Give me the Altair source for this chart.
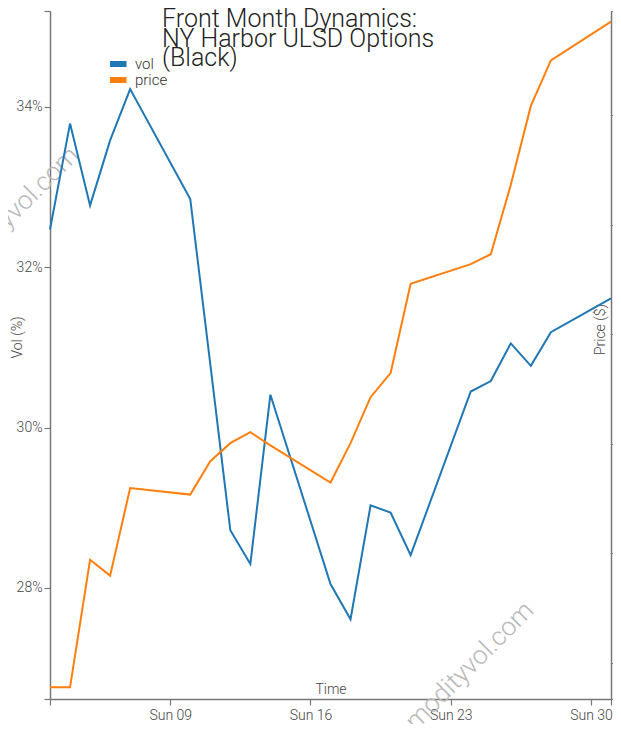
import altair as alt
import pandas as pd

dates = ["2025-03-03", "2025-03-04", "2025-03-05", "2025-03-06", "2025-03-07",
         "2025-03-10", "2025-03-11", "2025-03-12", "2025-03-13", "2025-03-14",
         "2025-03-17", "2025-03-18", "2025-03-19", "2025-03-20", "2025-03-21",
         "2025-03-24", "2025-03-25", "2025-03-26", "2025-03-27", "2025-03-28",
         "2025-03-31"]
vol = [32.47, 33.79, 32.77, 33.58, 34.22,
       32.85, 30.79, 28.72, 28.30, 30.41,
       28.05, 27.61, 29.03, 28.94, 28.41,
       30.45, 30.58, 31.05, 30.77, 31.19,
       31.61]
price = [2.1955, 2.1955, 2.2188, 2.2159, 2.2319,
         2.2307, 2.2368, 2.2401, 2.2421, 2.2397,
         2.2329, 2.2401, 2.2485, 2.2529, 2.2692,
         2.2728, 2.2746, 2.2873, 2.3017, 2.3100,
         2.3171]

series_names = ["vol", "price"]
series_colors = ["#1f77b4", "#ff7f0e"]
title_lines = ["Front Month Dynamics:", "NY Harbor ULSD Options", "(Black)"]
watermark = "commodityvol.com"

vol_domain = [26.616, 35.194]
vol_ticks = [26.616, 28, 30, 32, 34, 35.194]
price_domain = [2.19337, 2.31903]
price_ticks = [2.19337, 2.20, 2.22, 2.24, 2.26, 2.28, 2.30, 2.31903]

df_vol = pd.DataFrame({"date": pd.to_datetime(dates), "value": vol, "series": "vol"})
df_price = pd.DataFrame({"date": pd.to_datetime(dates), "value": price, "series": "price"})
wm_df = pd.DataFrame({"label": [watermark]})

W, H = 561, 688
FONT = "Roboto"

x_enc = alt.X(
    "date:T",
    scale=alt.Scale(domain=[alt.DateTime(year=2025, month=3, date=3),
                            alt.DateTime(year=2025, month=3, date=31)]),
    axis=alt.Axis(
        values=[alt.DateTime(year=2025, month=3, date=d) for d in [3, 9, 16, 23, 30, 31]],
        labelExpr="day(datum.value) == 0 ? timeFormat(datum.value, '%a %d') : ''",
        title="Time", titleY=-6, titleBaseline="alphabetic",
        tickSize=6, labelPadding=3, labelFlush=False, labelOverlap=False,
    ),
)

color_enc = alt.Color(
    "series:N",
    scale=alt.Scale(domain=series_names, range=series_colors),
    legend=alt.Legend(
        title=None, orient="none", legendX=60, legendY=45,
        symbolType="M-1.7,0L1.7,0", symbolSize=100,
        symbolStrokeWidth=6, labelFontSize=15, labelColor="#333",
        labelFont=FONT, labelFontWeight=300, labelOffset=9,
        rowPadding=0, padding=0, clipHeight=16,
    ),
)

vol_line = alt.Chart(df_vol).mark_line(strokeWidth=2).encode(
    x=x_enc,
    y=alt.Y("value:Q", scale=alt.Scale(domain=vol_domain, nice=False, zero=False),
            axis=alt.Axis(orient="left", values=vol_ticks,
                          labelExpr="(datum.value == 28 || datum.value == 30 || datum.value == 32 || datum.value == 34) ? datum.value + '%' : ''",
                          title="Vol (%)", titleAngle=270, titleX=-26, titleY=326,
                          titleBaseline="bottom", titleAlign="center",
                          tickSize=6, labelPadding=2)),
    color=color_enc,
)

price_line = alt.Chart(df_price).mark_line(strokeWidth=2).encode(
    x=x_enc,
    y=alt.Y("value:Q", scale=alt.Scale(domain=price_domain, nice=False, zero=False),
            axis=alt.Axis(orient="right", values=price_ticks,
                          labelExpr="(datum.value < 2.195 || datum.value > 2.31) ? '' : format(datum.value, '.2f')",
                          title="Price ($)", titleAngle=270, titleX=-4, titleY=318,
                          titleBaseline="bottom", titleAlign="center",
                          tickSize=6, labelPadding=3)),
    color=color_enc,
)

wm1 = alt.Chart(wm_df).mark_text(
    angle=315, align="right", baseline="alphabetic", fontSize=26,
    font=FONT, fontWeight=300, color="#b8b8b8",
).encode(x=alt.value(30), y=alt.value(146), text="label:N")

wm2 = alt.Chart(wm_df).mark_text(
    angle=315, align="right", baseline="alphabetic", fontSize=26,
    font=FONT, fontWeight=300, color="#b8b8b8",
).encode(x=alt.value(485), y=alt.value(601), text="label:N")

chart = alt.layer(wm1, wm2, vol_line, price_line).resolve_scale(
    y="independent"
).properties(
    width=W, height=H,
    autosize=alt.AutoSizeParams(type="none"),
    padding={"left": 42, "top": 3, "right": 2, "bottom": 25},
    title=alt.TitleParams(
        text=title_lines, anchor="start", frame="group", orient="top",
        fontSize=25, font=FONT, fontWeight=300, color="#222",
        lineHeight=19.7, baseline="top", dx=112, dy=61, offset=0,
    ),
).configure_view(
    strokeWidth=0
).configure_axis(
    grid=False, labelFont=FONT, titleFont=FONT, labelFontSize=14, titleFontSize=14,
    labelColor="#444", titleColor="#444", labelFontWeight=300, titleFontWeight=300,
    domainColor="#777", tickColor="#777", domainWidth=1.5, tickWidth=1.2,
)

chart.save("out.html", embed_options={"renderer": "svg", "actions": False})
